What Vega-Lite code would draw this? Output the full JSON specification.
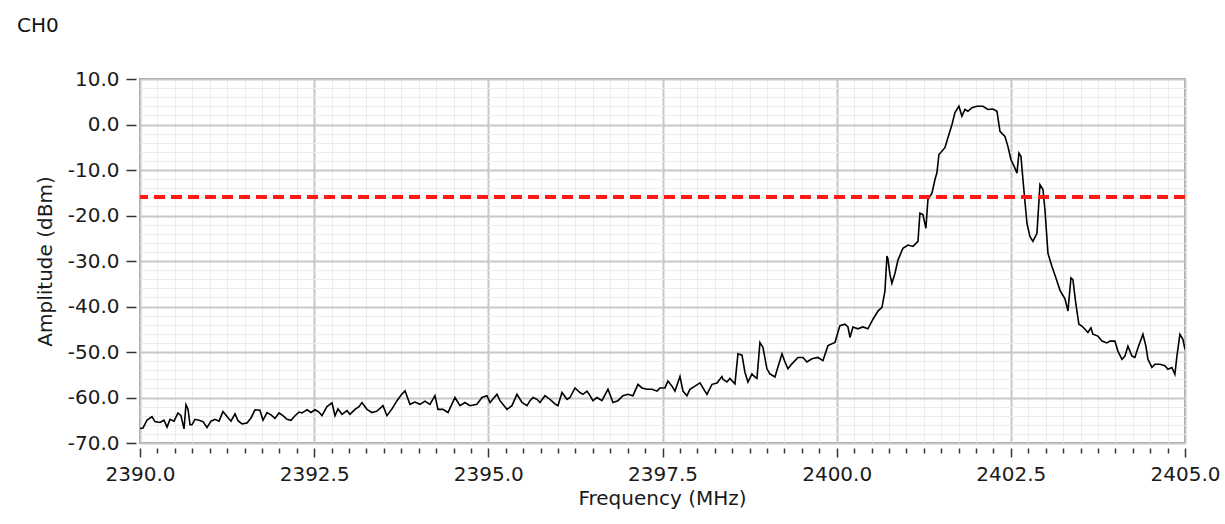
{
 "$schema": "https://vega.github.io/schema/vega-lite/v6.json",
 "width": 1045, "height": 364,
 "autosize": {"type": "none"},
 "padding": {"left": 140, "top": 79, "right": 40, "bottom": 81},
 "background": "white",
 "title": {"text": "CH0", "anchor": "start", "frame": "group", "dx": -123, "offset": 33, "fontSize": 20, "font": "DejaVu Sans", "fontWeight": "normal", "color": "#111111"},
 "config": {"view": {"stroke": "#9a9a9a", "strokeWidth": 2}, "font": "DejaVu Sans"},
 "data": {"values": [
{"f":2390.000,"a":-66.8},{"f":2390.043,"a":-66.7},{"f":2390.100,"a":-65.0},{"f":2390.144,"a":-64.5},{"f":2390.172,"a":-64.2},{"f":2390.215,"a":-65.3},{"f":2390.287,"a":-65.5},{"f":2390.344,"a":-65.0},{"f":2390.388,"a":-66.5},{"f":2390.431,"a":-64.8},{"f":2390.488,"a":-65.2},{"f":2390.545,"a":-63.4},{"f":2390.588,"a":-64.0},{"f":2390.632,"a":-66.9},{"f":2390.660,"a":-61.6},{"f":2390.689,"a":-62.5},{"f":2390.718,"a":-66.0},{"f":2390.746,"a":-66.0},{"f":2390.789,"a":-64.8},{"f":2390.847,"a":-65.0},{"f":2390.904,"a":-65.3},{"f":2390.962,"a":-66.6},{"f":2391.019,"a":-65.2},{"f":2391.076,"a":-64.8},{"f":2391.134,"a":-65.2},{"f":2391.191,"a":-63.1},{"f":2391.249,"a":-64.2},{"f":2391.306,"a":-65.2},{"f":2391.364,"a":-63.6},{"f":2391.407,"a":-65.1},{"f":2391.464,"a":-65.8},{"f":2391.536,"a":-65.6},{"f":2391.593,"a":-64.5},{"f":2391.651,"a":-62.7},{"f":2391.722,"a":-62.8},{"f":2391.765,"a":-65.0},{"f":2391.823,"a":-63.3},{"f":2391.880,"a":-63.8},{"f":2391.938,"a":-64.6},{"f":2391.995,"a":-63.4},{"f":2392.052,"a":-64.0},{"f":2392.110,"a":-64.8},{"f":2392.167,"a":-65.0},{"f":2392.225,"a":-64.0},{"f":2392.282,"a":-63.2},{"f":2392.325,"a":-63.4},{"f":2392.368,"a":-63.0},{"f":2392.397,"a":-62.7},{"f":2392.454,"a":-63.3},{"f":2392.512,"a":-62.7},{"f":2392.569,"a":-63.2},{"f":2392.612,"a":-64.0},{"f":2392.684,"a":-62.0},{"f":2392.756,"a":-61.2},
{"f":2392.799,"a":-64.0},{"f":2392.842,"a":-62.5},{"f":2392.899,"a":-63.7},{"f":2392.971,"a":-62.9},{"f":2393.014,"a":-63.7},{"f":2393.086,"a":-62.6},{"f":2393.143,"a":-62.0},{"f":2393.186,"a":-61.1},{"f":2393.258,"a":-62.6},{"f":2393.330,"a":-63.3},{"f":2393.402,"a":-63.0},{"f":2393.488,"a":-61.8},{"f":2393.545,"a":-64.0},{"f":2393.617,"a":-62.5},{"f":2393.689,"a":-60.7},{"f":2393.746,"a":-59.5},{"f":2393.804,"a":-58.5},{"f":2393.875,"a":-61.5},{"f":2393.947,"a":-61.0},{"f":2394.019,"a":-61.5},{"f":2394.091,"a":-60.8},{"f":2394.162,"a":-61.5},{"f":2394.234,"a":-59.6},{"f":2394.277,"a":-62.6},{"f":2394.349,"a":-62.6},{"f":2394.421,"a":-63.3},{"f":2394.521,"a":-60.0},{"f":2394.593,"a":-61.8},{"f":2394.665,"a":-61.1},{"f":2394.736,"a":-61.8},{"f":2394.837,"a":-61.5},{"f":2394.909,"a":-60.0},{"f":2394.980,"a":-59.6},{"f":2395.024,"a":-61.1},{"f":2395.124,"a":-59.3},{"f":2395.167,"a":-60.7},{"f":2395.268,"a":-62.6},{"f":2395.339,"a":-61.8},{"f":2395.411,"a":-59.3},{"f":2395.483,"a":-61.1},{"f":2395.555,"a":-61.8},
{"f":2395.598,"a":-60.7},{"f":2395.641,"a":-60.0},{"f":2395.698,"a":-60.4},{"f":2395.741,"a":-61.1},{"f":2395.813,"a":-59.6},{"f":2395.885,"a":-60.4},{"f":2395.956,"a":-61.4},{"f":2395.999,"a":-61.8},{"f":2396.057,"a":-58.9},{"f":2396.129,"a":-60.4},{"f":2396.172,"a":-60.0},{"f":2396.244,"a":-57.9},{"f":2396.315,"a":-58.9},{"f":2396.358,"a":-59.3},{"f":2396.416,"a":-58.6},{"f":2396.459,"a":-59.6},{"f":2396.502,"a":-60.7},{"f":2396.559,"a":-60.0},{"f":2396.631,"a":-60.7},{"f":2396.717,"a":-58.2},{"f":2396.789,"a":-61.1},{"f":2396.861,"a":-60.7},{"f":2396.932,"a":-59.6},{"f":2397.004,"a":-59.3},{"f":2397.076,"a":-59.6},{"f":2397.148,"a":-57.1},{"f":2397.205,"a":-57.9},{"f":2397.277,"a":-58.2},{"f":2397.349,"a":-58.2},{"f":2397.421,"a":-58.6},{"f":2397.464,"a":-57.9},{"f":2397.535,"a":-57.9},{"f":2397.578,"a":-56.4},{"f":2397.636,"a":-57.5},{"f":2397.679,"a":-58.6},{"f":2397.751,"a":-55.4},{"f":2397.794,"a":-58.6},{"f":2397.851,"a":-59.6},{"f":2397.894,"a":-58.2},{"f":2397.966,"a":-57.5},{"f":2398.038,"a":-56.8},{"f":2398.081,"a":-57.9},{"f":2398.138,"a":-59.3},{"f":2398.210,"a":-57.1},{"f":2398.282,"a":-56.8},{"f":2398.353,"a":-55.4},
{"f":2398.368,"a":-56.0},{"f":2398.425,"a":-56.6},{"f":2398.468,"a":-55.8},{"f":2398.540,"a":-57.0},{"f":2398.583,"a":-50.4},{"f":2398.641,"a":-50.7},{"f":2398.684,"a":-54.5},{"f":2398.727,"a":-56.6},{"f":2398.784,"a":-54.8},{"f":2398.827,"a":-55.5},{"f":2398.856,"a":-55.8},{"f":2398.899,"a":-47.9},{"f":2398.942,"a":-49.0},{"f":2398.999,"a":-53.7},{"f":2399.042,"a":-54.8},{"f":2399.114,"a":-55.5},{"f":2399.157,"a":-53.3},{"f":2399.215,"a":-50.4},{"f":2399.258,"a":-52.2},{"f":2399.301,"a":-53.7},{"f":2399.358,"a":-52.6},{"f":2399.444,"a":-51.2},{"f":2399.516,"a":-51.2},{"f":2399.573,"a":-52.2},{"f":2399.645,"a":-51.5},{"f":2399.731,"a":-51.2},{"f":2399.803,"a":-51.9},{"f":2399.875,"a":-48.6},{"f":2399.975,"a":-47.9},{"f":2400.047,"a":-44.2},{"f":2400.119,"a":-43.9},{"f":2400.162,"a":-44.5},{"f":2400.191,"a":-46.8},{"f":2400.234,"a":-44.5},{"f":2400.305,"a":-44.9},{"f":2400.377,"a":-44.5},{"f":2400.449,"a":-44.9},{"f":2400.521,"a":-42.8},{"f":2400.593,"a":-41.0},{"f":2400.650,"a":-40.2},{"f":2400.693,"a":-36.6},{"f":2400.722,"a":-28.9},{"f":2400.736,"a":-29.6},{"f":2400.765,"a":-33.0},{"f":2400.793,"a":-34.9},{"f":2400.837,"a":-32.7},{"f":2400.880,"a":-29.8},
{"f":2400.951,"a":-27.2},{"f":2401.023,"a":-26.5},{"f":2401.095,"a":-26.8},{"f":2401.167,"a":-25.7},{"f":2401.195,"a":-19.5},{"f":2401.238,"a":-19.8},{"f":2401.281,"a":-22.8},{"f":2401.310,"a":-16.5},{"f":2401.368,"a":-15.1},{"f":2401.411,"a":-12.1},{"f":2401.439,"a":-10.6},{"f":2401.468,"a":-6.6},{"f":2401.554,"a":-5.1},{"f":2401.597,"a":-2.9},{"f":2401.655,"a":0.0},{"f":2401.698,"a":2.6},{"f":2401.755,"a":4.0},{"f":2401.798,"a":1.8},{"f":2401.841,"a":3.3},{"f":2401.884,"a":2.9},{"f":2401.942,"a":3.7},{"f":2402.013,"a":4.0},{"f":2402.100,"a":4.0},{"f":2402.171,"a":3.3},{"f":2402.243,"a":3.4},{"f":2402.301,"a":2.9},{"f":2402.344,"a":-1.5},{"f":2402.415,"a":-2.6},{"f":2402.458,"a":-4.8},{"f":2402.501,"a":-7.7},{"f":2402.559,"a":-9.6},{"f":2402.588,"a":-10.7},{"f":2402.616,"a":-6.3},{"f":2402.645,"a":-7.0},{"f":2402.674,"a":-12.1},{"f":2402.731,"a":-21.7},{"f":2402.774,"a":-24.6},{"f":2402.817,"a":-25.7},{"f":2402.875,"a":-23.9},{"f":2402.918,"a":-13.2},{"f":2402.961,"a":-14.3},{"f":2402.990,"a":-18.8},{"f":2403.033,"a":-28.3},{"f":2403.090,"a":-31.2},{"f":2403.133,"a":-33.1},{"f":2403.205,"a":-36.4},
{"f":2403.233,"a":-37.2},{"f":2403.277,"a":-38.3},{"f":2403.320,"a":-41.0},{"f":2403.363,"a":-33.7},{"f":2403.391,"a":-34.1},{"f":2403.434,"a":-39.5},{"f":2403.477,"a":-43.9},{"f":2403.521,"a":-44.3},{"f":2403.564,"a":-45.0},{"f":2403.607,"a":-45.7},{"f":2403.650,"a":-44.7},{"f":2403.678,"a":-46.1},{"f":2403.750,"a":-46.5},{"f":2403.808,"a":-47.6},{"f":2403.879,"a":-48.0},{"f":2403.922,"a":-47.6},{"f":2403.994,"a":-47.6},{"f":2404.037,"a":-49.8},{"f":2404.095,"a":-51.6},{"f":2404.138,"a":-50.9},{"f":2404.181,"a":-48.7},{"f":2404.238,"a":-50.9},{"f":2404.281,"a":-51.2},{"f":2404.324,"a":-49.1},{"f":2404.396,"a":-46.1},{"f":2404.439,"a":-48.7},{"f":2404.468,"a":-51.6},{"f":2404.525,"a":-53.4},{"f":2404.568,"a":-52.7},{"f":2404.640,"a":-52.7},{"f":2404.712,"a":-53.0},{"f":2404.755,"a":-53.8},{"f":2404.812,"a":-53.4},{"f":2404.855,"a":-54.9},{"f":2404.884,"a":-50.9},{"f":2404.927,"a":-46.1},{"f":2404.970,"a":-47.2},{"f":2405.000,"a":-49.4}
 ]},
 "layer": [
  {"mark": {"type": "line", "color": "#000000", "strokeWidth": 1.6, "clip": true},
   "encoding": {
    "x": {"field": "f", "type": "quantitative",
      "scale": {"domain": [2390, 2405], "nice": false, "zero": false},
      "axis": {"title": "Frequency (MHz)", "orient": "bottom", "offset": 5, "domain": false, "tickCount": 1000,
        "values": [2390,2390.25,2390.5,2390.75,2391,2391.25,2391.5,2391.75,2392,2392.25,2392.5,2392.75,2393,2393.25,2393.5,2393.75,2394,2394.25,2394.5,2394.75,2395,2395.25,2395.5,2395.75,2396,2396.25,2396.5,2396.75,2397,2397.25,2397.5,2397.75,2398,2398.25,2398.5,2398.75,2399,2399.25,2399.5,2399.75,2400,2400.25,2400.5,2400.75,2401,2401.25,2401.5,2401.75,2402,2402.25,2402.5,2402.75,2403,2403.25,2403.5,2403.75,2404,2404.25,2404.5,2404.75,2405],
        "grid": true,
        "gridColor": {"condition": {"test": "datum.value % 2.5 === 0", "value": "#c8c8c8"}, "value": "#ececec"},
        "gridWidth": {"condition": {"test": "datum.value % 2.5 === 0", "value": 2}, "value": 1},
        "tickSize": {"condition": {"test": "datum.value % 2.5 === 0", "value": 9}, "value": 5},
        "tickColor": "#333333", "tickWidth": 1.5,
        "labelExpr": "datum.value % 2.5 === 0 ? format(datum.value, '.1f') : ''",
        "labelFont": "DejaVu Sans", "labelFontSize": 20, "labelColor": "#1a1a1a", "labelPadding": 7,
        "labelFlush": false, "labelOverlap": false, "labelBound": false,
        "titleFont": "DejaVu Sans", "titleFontSize": 20, "titleFontWeight": "normal", "titleColor": "#1a1a1a",
        "titleX": 522, "titleY": 50, "titleBaseline": "middle", "titleAlign": "center"}},
    "y": {"field": "a", "type": "quantitative",
      "scale": {"domain": [-70, 10], "nice": false, "zero": false},
      "axis": {"title": "Amplitude (dBm)", "orient": "left", "offset": 4, "domain": false, "tickCount": 1000,
        "values": [-70,-68,-66,-64,-62,-60,-58,-56,-54,-52,-50,-48,-46,-44,-42,-40,-38,-36,-34,-32,-30,-28,-26,-24,-22,-20,-18,-16,-14,-12,-10,-8,-6,-4,-2,0,2,4,6,8,10],
        "grid": true,
        "gridColor": {"condition": {"test": "datum.value % 10 === 0", "value": "#c8c8c8"}, "value": "#ececec"},
        "gridWidth": {"condition": {"test": "datum.value % 10 === 0", "value": 2}, "value": 1},
        "tickSize": 10,
        "tickOpacity": {"condition": {"test": "datum.value % 10 === 0", "value": 1}, "value": 0},
        "tickColor": "#333333", "tickWidth": 1.5,
        "labelExpr": "datum.value % 10 === 0 ? (datum.value < 0 ? '-' : '') + format(abs(datum.value), '.1f') : ''",
        "labelFont": "DejaVu Sans", "labelFontSize": 20, "labelColor": "#1a1a1a", "labelPadding": 7,
        "labelOverlap": false, "labelBound": false, "labelFlush": false,
        "titleFont": "DejaVu Sans", "titleFontSize": 20, "titleFontWeight": "normal", "titleColor": "#1a1a1a",
        "titleX": -91, "titleY": 182, "titleAngle": -90, "titleBaseline": "middle", "titleAlign": "center"}}
   }},
  {"mark": {"type": "rule", "color": "#ff1a1a", "strokeWidth": 3, "strokeDash": [11, 6]},
   "encoding": {"y": {"datum": -16}}}
 ]
}
